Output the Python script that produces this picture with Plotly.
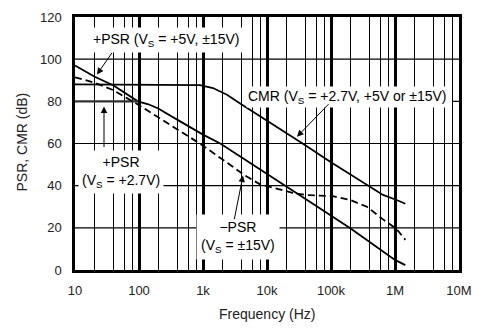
import plotly.graph_objects as go

# ---------------- data ----------------
freq_pos_psr = [10, 20, 40, 96, 140, 200, 400, 1000, 1860, 5000, 19000, 50000, 200000, 1000000, 1450000]
pos_psr_db   = [97, 91.8, 87.5, 80, 78.6, 76.6, 71.2, 64.2, 60, 51.4, 40, 31.8, 19.8, 4.8, 2.3]

freq_neg_psr = [10, 20, 39, 96, 200, 400, 890, 2000, 4600, 7800, 15000, 25000, 40000, 107000, 200000, 365000, 650000, 1060000, 1450000]
neg_psr_db   = [91.4, 88.9, 85.4, 78.5, 72.4, 66.7, 60, 52.5, 44.7, 40.6, 38.3, 36.6, 35.6, 35, 33.2, 30, 24, 19.4, 14.3]

freq_cmr = [10, 500, 900, 1430, 2370, 3800, 10000, 36000, 100000, 382000, 650000, 1060000, 1450000]
cmr_db   = [88, 88, 87.7, 86.3, 83.1, 79.0, 71.0, 60, 51.1, 40, 35.6, 33.2, 31.4]

freq_psr27 = [10, 96]
psr27_db   = [80, 80]

x_tick_vals = [10, 100, 1e3, 1e4, 1e5, 1e6, 1e7]
x_tick_text = ["10", "100", "1k", "10k", "100k", "1M", "10M"]
y_tick_vals = [0, 20, 40, 60, 80, 100, 120]
h_grid_vals = [20, 40, 60, 100]
minor_mults = [2, 4, 6, 8]
minor_x = [m * 10 ** d for d in range(1, 7) for m in minor_mults]

FONT = "Liberation Sans, Arial, sans-serif"

fig = go.Figure()
line_style = dict(color="black", width=1.8)
fig.add_trace(go.Scatter(x=freq_cmr, y=cmr_db, mode="lines", line=line_style))
fig.add_trace(go.Scatter(x=freq_pos_psr, y=pos_psr_db, mode="lines", line=line_style))
fig.add_trace(go.Scatter(x=freq_psr27, y=psr27_db, mode="lines", line=dict(color="#333", width=2.2)))
fig.add_trace(go.Scatter(x=freq_neg_psr, y=neg_psr_db, mode="lines",
                         line=dict(color="black", width=1.8, dash="7px,4px")))

# horizontal grid lines
for v in h_grid_vals:
    fig.add_shape(type="line", xref="paper", yref="y", x0=0, x1=1, y0=v, y1=v,
                  line=dict(color="black", width=1.2), layer="below")
fig.add_shape(type="line", xref="paper", yref="y", x0=0.984, x1=1, y0=80, y1=80,
              line=dict(color="black", width=1.2), layer="below")

W0, H0 = 384.0, 260.0
def px(x):
    return (x - 75) / W0
def py(y):
    return (270 - y) / H0

lab = dict(xref="paper", yref="paper", showarrow=False, bgcolor="white",
           font=dict(family=FONT, size=14, color="black"), xanchor="center", yanchor="middle")
fig.add_annotation(x=px(166), y=py(34), text="+PSR (V<sub>S</sub> = +5V, ±15V)", borderpad=3, **lab)
fig.add_annotation(x=px(121), y=py(169), text="+PSR<br>(V<sub>S</sub> = +2.7V)", borderpad=3, **lab)
fig.add_annotation(x=px(347), y=py(92), text="CMR (V<sub>S</sub> = +2.7V, +5V or ±15V)", borderpad=1, **lab)
fig.add_annotation(x=px(238), y=py(236), text="−PSR<br>(V<sub>S</sub> = ±15V)", borderpad=4, **lab)

arr = dict(xref="paper", yref="paper", axref="pixel", ayref="pixel", showarrow=True, text="",
           arrowhead=2, arrowsize=1.3, arrowwidth=1, arrowcolor="black", standoff=0)
fig.add_annotation(x=px(97), y=py(69), ax=16, ay=-23, **arr)
fig.add_annotation(x=px(104), y=py(102), ax=0, ay=42, **arr)
fig.add_annotation(x=px(297), y=py(133), ax=33, ay=-34, **arr)
fig.add_annotation(x=px(243), y=py(173), ax=-9, ay=45, **arr)

# axis titles
fig.add_annotation(x=0.5, y=py(315), xref="paper", yref="paper", showarrow=False,
                   xanchor="center", yanchor="middle",
                   text="Frequency (Hz)", font=dict(family=FONT, size=14, color="#222"))
fig.add_annotation(x=px(22), y=py(139), xref="paper", yref="paper", showarrow=False,
                   xanchor="center", yanchor="middle",
                   text="PSR, CMR (dB)", textangle=-90, font=dict(family=FONT, size=14, color="#222"))

fig.update_xaxes(type="log", range=[1, 7], tickvals=x_tick_vals, ticktext=x_tick_text,
                 showgrid=True, gridcolor="black", gridwidth=2.5,
                 minor=dict(tickvals=minor_x, showgrid=True, gridcolor="black", gridwidth=1.2, ticks=""),
                 showline=True, linecolor="black", linewidth=2.5, mirror=True, ticks="",
                 ticklabelstandoff=7,
                 tickfont=dict(family=FONT, size=13, color="#222"), zeroline=False)
fig.update_yaxes(range=[0, 120], tickvals=y_tick_vals, showgrid=False,
                 showline=True, linecolor="black", linewidth=2.5, mirror=True, ticks="",
                 ticklabelstandoff=8,
                 tickfont=dict(family=FONT, size=13, color="#222"), zeroline=False)

fig.update_layout(width=492, height=328, margin=dict(l=75, r=33, t=10, b=58),
                  plot_bgcolor="white", paper_bgcolor="white", showlegend=False,
                  font=dict(family=FONT))

fig.write_html("out.html")
